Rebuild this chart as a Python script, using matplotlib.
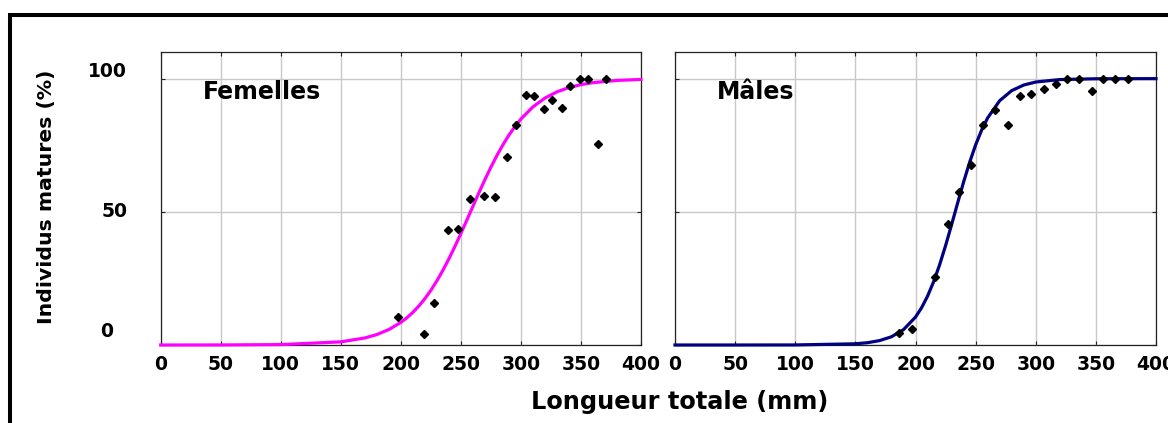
import matplotlib
matplotlib.use("Agg")
import matplotlib.pyplot as plt
from matplotlib.patches import Rectangle

plt.rcParams["font.family"] = ["DejaVu Sans"]
plt.rcParams["font.weight"] = "bold"

# observed points, femelles
fem_len = [198, 219, 228, 239, 248, 258, 269, 278, 288, 296, 304, 311, 319, 326, 334,
           341, 349, 356, 364, 371]
fem_pct = [10.4, 4.0, 15.7, 43.1, 43.5, 54.9, 55.8, 55.5, 70.6, 82.6, 93.9, 93.4, 88.6,
           92.0, 89.0, 97.4, 100, 100, 75.4, 100]

# observed points, males
mal_len = [186, 197, 216, 227, 236, 246, 256, 266, 277, 287, 296, 307, 317, 326, 336,
           347, 356, 366, 377]
mal_pct = [4.4, 5.9, 25.7, 45.4, 57.4, 67.4, 82.6, 88.3, 82.6, 93.5, 94.2, 96.1, 98.0,
           100, 100, 95.4, 100, 100, 100]

# fitted ogives
fem_curve_x = [0, 50, 100, 150, 170, 180, 190, 200, 205, 210, 215, 220, 225, 230, 235,
               240, 245, 250, 255, 260, 265, 270, 275, 280, 285, 290, 295, 300, 310,
               320, 330, 340, 350, 360, 380, 400]
fem_curve_y = [0.0, 0.02, 0.15, 1.18, 2.64, 3.92, 5.80, 8.49, 10.22, 12.26, 14.64, 17.39,
               20.54, 24.09, 28.03, 32.34, 36.98, 41.87, 46.93, 52.05, 57.13, 62.06,
               66.76, 71.13, 75.16, 78.79, 82.00, 84.84, 89.40, 92.70, 95.04, 96.65,
               97.75, 98.50, 99.33, 99.70]

mal_curve_x = [0, 50, 100, 150, 160, 170, 180, 190, 200, 205, 210, 215, 220, 225, 230,
               235, 240, 245, 250, 255, 260, 270, 280, 290, 300, 320, 350, 400]
mal_curve_y = [0.0, 0.0, 0.02, 0.45, 0.86, 1.64, 3.09, 5.76, 10.48, 13.94, 18.31, 23.69,
               30.05, 37.29, 45.14, 53.25, 61.19, 68.57, 75.12, 80.69, 85.26, 91.72,
               95.50, 97.60, 98.73, 99.65, 99.95, 100.0]

x_ticks = [0, 50, 100, 150, 200, 250, 300, 350, 400]
y_ticks = [0, 50, 100]
y_labels = ["0", "50", "100"]

W, H = 1168, 423
fig = plt.figure(figsize=(W / 100, H / 100), dpi=100)

ax1 = fig.add_axes([160.7 / W, 78 / H, 480.3 / W, 293 / H])
ax2 = fig.add_axes([675 / W, 78 / H, 481 / W, 293 / H])

panels = [
    (ax1, fem_len, fem_pct, fem_curve_x, fem_curve_y, "#ff00ff", "Femelles"),
    (ax2, mal_len, mal_pct, mal_curve_x, mal_curve_y, "#000080", "Mâles"),
]

for ax, px, py, cx, cy, col, name in panels:
    ax.set_xlim(0, 400)
    ax.set_ylim(0, 110)
    ax.set_xticks(x_ticks)
    ax.set_yticks(y_ticks)
    ax.grid(True, color="#c8c8c8", linewidth=1.0)
    ax.set_axisbelow(True)
    ax.tick_params(direction="in", length=3, width=0.8, color="#222222",
                   top=True, right=True, labelsize=13.5, pad=7, labelleft=False)
    for s in ax.spines.values():
        s.set_color("#222222")
        s.set_linewidth(0.9)
    ax.plot(cx, cy, color=col, linewidth=2.3, clip_on=False, zorder=3)
    ax.plot(px, py, linestyle="none", marker="D", markersize=4.2,
            color="black", zorder=4)
    ax.text(35, 95, name, fontsize=17, fontweight="bold", va="center", ha="left")

# y tick labels: in the original they sit a bit above their grid lines
ylab_pos = [(-0.099, 5.0), (-0.070, 50.0), (-0.070, 102.7)]
for lab, (xa, yd) in zip(y_labels, ylab_pos):
    ax1.text(xa, yd, lab, transform=ax1.get_yaxis_transform(), fontsize=13.5,
             fontweight="bold", ha="right", va="center", clip_on=False)

fig.text(47 / W, (H - 197) / H, "Individus matures (%)", fontsize=14.7,
         fontweight="bold", rotation=90, ha="center", va="center")

fig.text(680 / W, (H - 402) / H, "Longueur totale (mm)", fontsize=17.3,
         fontweight="bold", ha="center", va="center")

fig.patches.append(Rectangle((9.5 / W, -0.1), 1.2, (H - 15.5) / H + 0.1,
                             transform=fig.transFigure, fill=False,
                             linewidth=2.9, edgecolor="black"))

fig.savefig("out.png", dpi=100)
